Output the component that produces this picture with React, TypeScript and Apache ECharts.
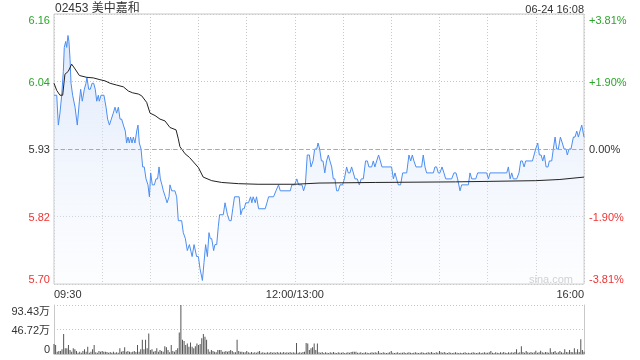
import React, { useEffect, useRef } from "react";
import * as echarts from "echarts";

const prevClose = 5.93;
const pctRange = 3.81;
const volMax = 93.43;
const titleText = "02453 美中嘉和";
const dateText = "06-24 16:08";
const watermark = "sina.com";
const timeTickLabels: Record<number, string> = { 0: "09:30", 150: "12:00/13:00", 330: "16:00" };

// minutes since 09:30 (lunch break removed), and price
const priceMinutes = [
  0, 1.7, 2.7, 3.7, 4.8, 5.8, 6.4, 7.3, 7.9, 8.7, 9.3, 10.0, 10.6, 11.6, 13.1, 14.5, 15.8, 16.6, 17.6, 18.9,
  19.9, 20.5, 21.6, 22.6, 23.7, 24.7, 25.7, 26.6, 27.6, 28.2, 29.3, 31.1, 32.4, 33.4, 34.5, 35.7, 36.9, 38.0, 39.0, 40.1,
  41.1, 42.1, 43.2, 44.4, 45.2, 46.1, 46.9, 47.7, 48.6, 49.4, 50.4, 51.5, 52.3, 53.1, 54.2, 55.2, 56.2, 57.3, 58.5, 59.4,
  60.2, 61.2, 62.5, 63.5, 64.5, 65.4, 66.2, 67.2, 68.1, 69.3, 70.4, 71.6, 72.2, 73.3, 74.3, 75.3, 76.4, 77.4, 78.4, 79.5,
  80.5, 81.8, 83.0, 84.3, 86.0, 87.2, 88.8, 89.9, 90.9, 92.4, 93.4, 94.4, 95.5, 96.5, 97.3, 98.2, 99.4, 100.2, 101.3, 102.3,
  103.1, 105.4, 106.5, 108.0, 109.2, 110.3, 111.3, 112.4, 115.3, 116.3, 117.4, 118.4, 119.4, 121.1, 122.4, 123.2, 124.0, 125.3, 126.1, 127.4,
  131.5, 132.6, 133.6, 136.7, 138.2, 139.8, 140.9, 147.1, 148.1, 149.8, 151.2, 152.3, 154.4, 155.4, 156.5, 157.7, 159.0, 160.0, 161.3, 162.3,
  163.6, 164.4, 165.4, 166.5, 167.5, 168.6, 169.7, 170.8, 171.8, 172.9, 173.9, 174.9, 176.0, 177.0, 178.1, 179.7, 180.8, 182.2, 183.2, 184.3,
  185.3, 186.4, 187.4, 188.8, 190.1, 191.3, 192.6, 194.0, 195.1, 196.1, 197.8, 198.8, 199.8, 200.9, 202.1, 203.2, 204.2, 210.2, 211.3, 212.3,
  213.3, 214.4, 215.8, 217.1, 219.6, 221.0, 222.1, 223.1, 224.1, 225.4, 228.9, 229.9, 231.0, 232.0, 236.2, 237.2, 238.2, 239.3, 240.3, 241.6,
  242.8, 243.9, 247.6, 249.0, 250.3, 251.3, 252.8, 253.8, 258.0, 259.0, 260.1, 262.6, 263.8, 269.4, 270.5, 271.5, 281.9, 282.9, 284.0, 285.0,
  286.0, 288.1, 289.5, 290.6, 291.6, 292.7, 293.7, 297.9, 298.9, 299.9, 301.2, 302.2, 303.3, 304.3, 305.3, 306.4, 307.6, 308.4, 309.9, 310.9,
  312.0, 313.0, 314.0, 315.3, 316.5, 317.6, 318.8, 319.6, 320.7, 321.9, 323.4, 324.4, 325.5, 326.5, 327.5, 328.6, 330,
];
const prices = [
  6.02, 6.02, 5.97, 5.99, 6.02, 6.06, 6.10, 6.11, 6.10, 6.12, 6.11, 6.08, 6.04, 6.02, 6.00, 5.97, 6.01, 6.03, 6.01, 6.03,
  6.04, 6.05, 6.03, 6.03, 6.04, 6.04, 6.03, 6.01, 6.02, 6.01, 6.02, 6.02, 6.00, 5.98, 5.97, 5.98, 5.99, 6.00, 5.99, 6.00,
  5.98, 5.98, 5.97, 5.96, 5.94, 5.95, 5.94, 5.95, 5.94, 5.95, 5.94, 5.96, 5.97, 5.94, 5.93, 5.90, 5.90, 5.88, 5.87, 5.85,
  5.89, 5.87, 5.87, 5.88, 5.88, 5.90, 5.88, 5.87, 5.86, 5.85, 5.84, 5.85, 5.87, 5.86, 5.86, 5.86, 5.85, 5.81, 5.81, 5.81,
  5.79, 5.78, 5.76, 5.77, 5.75, 5.77, 5.75, 5.75, 5.73, 5.71, 5.74, 5.77, 5.75, 5.79, 5.78, 5.78, 5.76, 5.77, 5.77, 5.80,
  5.82, 5.82, 5.84, 5.82, 5.81, 5.81, 5.83, 5.85, 5.85, 5.82, 5.83, 5.83, 5.84, 5.84, 5.85, 5.84, 5.85, 5.84, 5.85, 5.83,
  5.83, 5.84, 5.85, 5.85, 5.86, 5.87, 5.86, 5.86, 5.87, 5.87, 5.88, 5.87, 5.87, 5.86, 5.87, 5.92, 5.92, 5.90, 5.91, 5.93,
  5.93, 5.94, 5.93, 5.91, 5.91, 5.89, 5.91, 5.92, 5.91, 5.90, 5.88, 5.88, 5.86, 5.86, 5.87, 5.87, 5.88, 5.90, 5.89, 5.89,
  5.90, 5.89, 5.88, 5.88, 5.87, 5.88, 5.88, 5.91, 5.91, 5.90, 5.90, 5.91, 5.90, 5.91, 5.92, 5.91, 5.90, 5.90, 5.88, 5.89,
  5.88, 5.87, 5.87, 5.89, 5.89, 5.92, 5.91, 5.92, 5.91, 5.90, 5.90, 5.92, 5.90, 5.89, 5.89, 5.90, 5.90, 5.89, 5.89, 5.90,
  5.89, 5.88, 5.88, 5.89, 5.89, 5.88, 5.86, 5.87, 5.87, 5.89, 5.88, 5.88, 5.89, 5.89, 5.88, 5.89, 5.89, 5.90, 5.88, 5.89,
  5.88, 5.88, 5.89, 5.91, 5.91, 5.90, 5.91, 5.91, 5.92, 5.93, 5.94, 5.92, 5.92, 5.91, 5.92, 5.90, 5.90, 5.91, 5.91, 5.93,
  5.95, 5.93, 5.93, 5.95, 5.94, 5.93, 5.93, 5.92, 5.93, 5.93, 5.95, 5.95, 5.96, 5.95, 5.96, 5.97, 5.95,
];

const avgMinutes = [
  0, 1.7, 3.7, 5.4, 6.8, 8.9, 11.0, 13.1, 15.8, 20.3, 24.5, 28.6, 31.8, 34.9, 39.0, 43.2, 46.3, 49.0, 52.5, 54.6,
  57.7, 59.8, 62.9, 66.0, 69.1, 72.2, 76.0, 77.4, 78.4, 81.6, 84.3, 89.9, 92.9, 98.2, 104.4, 114.8, 127.1, 150, 165, 200,
  250, 300, 315, 330,
];
const avgPrices = [
  6.04, 6.028, 6.02, 6.02, 6.055, 6.06, 6.072, 6.064, 6.053, 6.05, 6.049, 6.046, 6.044, 6.04, 6.037, 6.034, 6.027, 6.024, 6.022, 6.019,
  6.008, 5.99, 5.986, 5.98, 5.977, 5.966, 5.962, 5.947, 5.934, 5.922, 5.916, 5.899, 5.883, 5.877, 5.874, 5.872, 5.871, 5.871, 5.873, 5.874,
  5.875, 5.877, 5.879, 5.883,
];

// volume per minute, in 万 shares
const volumes = [
  19, 17, 4.5, 5.7, 5.7, 9, 38, 11, 11, 17,
  7.6, 4.5, 11, 9, 5.7, 2.5, 4.5, 2.5, 5.7, 9,
  4.5, 14, 2.5, 4.5, 9, 17, 3.2, 2.5, 5.7, 4.5,
  5.7, 4.5, 4.5, 3.8, 2.5, 3.8, 2.5, 4.5, 2.5, 3.2,
  2.5, 11, 4.5, 5.7, 12.7, 4.5, 5.7, 4.5, 3.2, 4.5,
  5.7, 3.8, 17, 4.5, 9, 27, 9, 27, 11, 39,
  7.6, 9, 4.5, 5.7, 11, 4.5, 7.6, 5.7, 4.5, 15,
  12.7, 7.6, 3.2, 17, 5.7, 4.5, 7.6, 11, 41, 93.43,
  27, 25, 17, 20, 14, 22, 14, 11, 15, 20,
  17, 19, 30, 38, 33, 27, 9, 4.5, 7.6, 5.7,
  4.5, 3.2, 7.6, 7.6, 7.6, 4.5, 4.5, 5.7, 4.5, 5.7,
  7.6, 5.7, 3.2, 3.2, 27, 5.7, 4.5, 4.5, 3.2, 3.2,
  5.7, 3.2, 2.5, 3.8, 2.5, 3.2, 2.5, 4.5, 5.7, 2.5,
  3.2, 2.5, 2.5, 3.2, 2.5, 3.8, 2.5, 3.2, 2.5, 3.8,
  2.5, 3.2, 2.5, 3.8, 2.5, 3.2, 2.5, 3.8, 2.5, 3.2,
  2.5, 21, 2.5, 3.2, 2.5, 3.8, 4.5, 21, 20, 7.6,
  11, 12.7, 20, 7.6, 20, 3.2, 2.5, 3.8, 2.1, 3.2,
  2.5, 1.9, 3.2, 2.5, 3.8, 2.5, 1.9, 3.2, 2.5, 2.5,
  3.2, 1.9, 2.5, 3.2, 2.5, 3.8, 4.5, 4.5, 4.5, 2.5,
  2.5, 3.2, 1.9, 2.5, 3.2, 2.5, 1.9, 2.5, 3.2, 2.5,
  3.2, 2.5, 5.7, 2.5, 1.9, 3.2, 2.5, 1.9, 2.5, 3.2,
  5.7, 2.5, 1.9, 2.5, 3.2, 1.9, 2.5, 2.5, 3.2, 1.9,
  2.5, 3.2, 2.5, 1.9, 2.5, 3.2, 2.5, 1.9, 2.5, 3.2,
  2.5, 1.9, 2.5, 3.2, 2.5, 3.8, 2.5, 1.9, 3.2, 2.5,
  5.7, 3.2, 2.5, 3.8, 2.5, 1.9, 3.2, 2.5, 1.9, 2.5,
  3.2, 2.5, 1.9, 2.5, 1.9, 2.5, 3.2, 1.9, 2.5, 1.9,
  2.5, 3.2, 2.5, 1.9, 2.5, 3.2, 1.9, 2.5, 3.2, 2.5,
  2.5, 3.2, 5.7, 2.5, 1.9, 3.2, 2.5, 1.9, 3.2, 2.5,
  3.8, 2.5, 1.9, 3.2, 2.5, 3.2, 2.5, 3.8, 9, 2.5,
  3.2, 15, 3.8, 2.5, 5.7, 3.2, 2.5, 3.8, 2.5, 3.2,
  6.4, 2.5, 3.2, 6.4, 3.2, 2.5, 3.8, 3.2, 2.5, 11,
  3.2, 3.8, 5.7, 2.5, 3.2, 5.7, 3.2, 2.5, 9, 3.8,
  3.2, 7.6, 3.8, 3.2, 11, 3.2, 9, 3.8, 28, 7.6, 4.5,
];

const FONT = "'Liberation Sans', Arial, 'Noto Sans CJK SC', sans-serif";
const UP = "#2aa52a";
const DOWN = "#f03232";
const TEXT = "#333333";
const FRAME = "#c8c8c8";

const toPct = (p: number) => (p / prevClose - 1) * 100;
const fmt2 = (x: number) => (Math.floor(Math.abs(x) * 100 + 1e-6) / 100).toFixed(2);

export default function App() {
  const ref = useRef<HTMLDivElement>(null);
  useEffect(() => {
    if (!ref.current) return;
    const chart = echarts.init(ref.current, undefined, { renderer: "svg" });
    const priceData = priceMinutes.map((t, i) => [t, toPct(prices[i])]);
    const avgData = avgMinutes.map((t, i) => [t, toPct(avgPrices[i])]);
    const volData = volumes.map((v, i) => [i, v]);
    const labelColor = (v: any) => {
      const n = Number(v);
      if (n > 1e-6) return UP;
      if (n < -1e-6) return DOWN;
      return TEXT;
    };
    chart.setOption({
      animation: false,
      textStyle: { fontFamily: FONT },
      grid: [
        { left: 54, top: 14, width: 530, height: 270, show: true, borderColor: FRAME, borderWidth: 1 },
        { left: 54, top: 305, width: 530, height: 49 },
      ],
      xAxis: [
        {
          gridIndex: 0,
          type: "value",
          min: 0,
          max: 330,
          interval: 30,
          axisLine: { show: false },
          axisTick: { show: false },
          splitLine: { show: true, lineStyle: { color: FRAME, type: [1, 2], width: 1 } },
          axisLabel: {
            show: true,
            fontSize: 11,
            color: TEXT,
            margin: 4,
            fontFamily: FONT,
            showMinLabel: true,
            showMaxLabel: true,
            alignMinLabel: "left",
            alignMaxLabel: "right",
            formatter: (v: number) => timeTickLabels[Math.round(v)] ?? "",
          },
        },
        {
          gridIndex: 1,
          type: "value",
          min: 0,
          max: 330,
          interval: 30,
          axisLine: { show: true, lineStyle: { color: FRAME } },
          axisTick: { show: false },
          splitLine: { show: false },
          axisLabel: { show: false },
        },
      ],
      yAxis: [
        {
          gridIndex: 0,
          type: "value",
          position: "left",
          min: -pctRange,
          max: pctRange,
          interval: pctRange / 2,
          axisLine: { show: false },
          axisTick: { show: false },
          splitLine: { show: true, lineStyle: { color: FRAME, type: [1, 2], width: 1 } },
          axisLabel: {
            fontSize: 11,
            margin: 4,
            fontFamily: FONT,
            color: labelColor,
            verticalAlignMinLabel: "bottom",
            verticalAlignMaxLabel: "top",
            formatter: (v: number) => (prevClose * (1 + v / 100)).toFixed(2),
          },
        },
        {
          gridIndex: 0,
          type: "value",
          position: "right",
          min: -pctRange,
          max: pctRange,
          interval: pctRange / 2,
          axisLine: { show: false },
          axisTick: { show: false },
          splitLine: { show: false },
          axisLabel: {
            fontSize: 11,
            margin: 5,
            fontFamily: FONT,
            color: labelColor,
            verticalAlignMinLabel: "bottom",
            verticalAlignMaxLabel: "top",
            formatter: (v: number) =>
              Math.abs(v) < 1e-6 ? "0.00%" : (v > 0 ? "+" : "-") + fmt2(v) + "%",
          },
        },
        {
          gridIndex: 1,
          type: "value",
          position: "left",
          min: 0,
          max: volMax,
          interval: volMax / 2,
          axisLine: { show: true, lineStyle: { color: FRAME } },
          axisTick: { show: false },
          splitLine: { show: true, lineStyle: { color: FRAME, type: [1, 2], width: 1 } },
          axisLabel: {
            fontSize: 11,
            margin: 4,
            color: TEXT,
            fontFamily: FONT,
            verticalAlignMinLabel: "bottom",
            verticalAlignMaxLabel: "top",
            formatter: (v: number) => (v < 1e-6 ? "0" : (v + 1e-9).toFixed(2) + "万"),
          },
        },
        {
          gridIndex: 1,
          type: "value",
          position: "right",
          min: 0,
          max: volMax,
          axisLine: { show: true, lineStyle: { color: FRAME } },
          axisTick: { show: false },
          splitLine: { show: false },
          axisLabel: { show: false },
        },
      ],
      graphic: [
        {
          type: "text",
          x: 55,
          y: 2,
          style: { text: titleText, fill: TEXT, font: `12px ${FONT}`, textAlign: "left", textVerticalAlign: "top" },
        },
        {
          type: "text",
          x: 584,
          y: 3,
          style: { text: dateText, fill: TEXT, font: `11px ${FONT}`, textAlign: "right", textVerticalAlign: "top" },
        },
        {
          type: "text",
          x: 573,
          y: 279,
          z: 0,
          style: { text: watermark, fill: "#c8c8c8", font: `11px ${FONT}`, textAlign: "right", textVerticalAlign: "middle" },
        },
      ],
      series: [
        {
          type: "line",
          xAxisIndex: 0,
          yAxisIndex: 0,
          data: priceData,
          showSymbol: false,
          symbol: "none",
          lineStyle: { color: "#4d8ef0", width: 1 },
          areaStyle: {
            origin: "start",
            color: new echarts.graphic.LinearGradient(0, 0, 0, 1, [
              { offset: 0, color: "rgba(200,218,248,0.85)" },
              { offset: 1, color: "rgba(240,245,253,0.3)" },
            ]),
          },
          markLine: {
            silent: true,
            symbol: "none",
            label: { show: false },
            lineStyle: { color: "#aaaaaa", type: [4, 3], width: 1 },
            data: [{ yAxis: 0 }],
          },
        },
        {
          type: "line",
          xAxisIndex: 0,
          yAxisIndex: 0,
          data: avgData,
          showSymbol: false,
          symbol: "none",
          lineStyle: { color: "#222222", width: 1 },
        },
        {
          type: "bar",
          xAxisIndex: 1,
          yAxisIndex: 2,
          data: volData,
          barWidth: 1,
          itemStyle: { color: "#555555" },
        },
      ],
    });
    return () => chart.dispose();
  }, []);
  return <div ref={ref} style={{ position: "fixed", left: 0, top: 0, width: 640, height: 360 }} />;
}
